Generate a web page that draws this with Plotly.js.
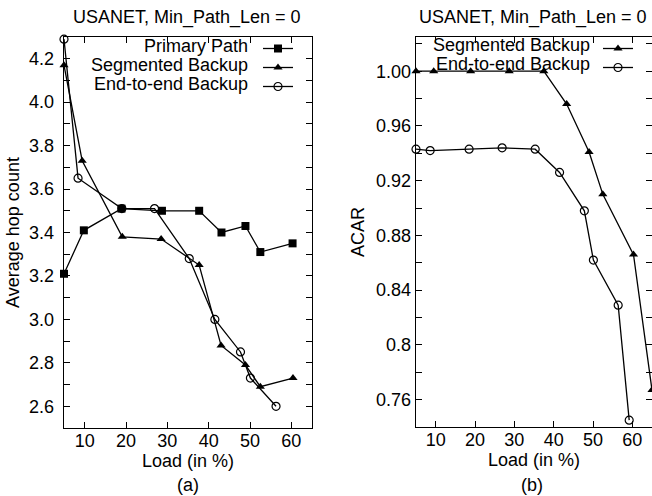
<!DOCTYPE html>
<html>
<head>
<meta charset="utf-8">
<script src="https://cdn.plot.ly/plotly-3.0.1.min.js"></script>
<style>html,body{margin:0;padding:0;background:#fff;}#chart{width:652px;height:496px;}</style>
</head>
<body>
<div id="chart"></div>
<script>
// ---- data (a): Average hop count vs Load ----
const loadPrimaryA = [5, 9.8, 18.9, 28.7, 37.7, 43.1, 48.9, 52.5, 60.3];
const hopPrimary   = [3.21, 3.41, 3.51, 3.50, 3.50, 3.40, 3.43, 3.31, 3.35];
const loadSegA     = [5, 9.4, 19.1, 28.5, 37.7, 43.0, 48.9, 52.5, 60.4];
const hopSeg       = [4.17, 3.73, 3.38, 3.37, 3.25, 2.88, 2.79, 2.69, 2.73];
const loadE2EA     = [5, 8.4, 19.0, 26.9, 35.3, 41.5, 47.7, 50.1, 56.3];
const hopE2E       = [4.29, 3.65, 3.51, 3.51, 3.28, 3.00, 2.85, 2.73, 2.60];

// ---- data (b): ACAR vs Load ----
const loadSegB = [5, 9.5, 18.9, 28.7, 37.5, 43.3, 49.0, 52.5, 60.3, 65.0];
const acarSeg  = [1.000, 1.000, 1.000, 1.000, 1.000, 0.976, 0.941, 0.910, 0.866, 0.767];
const loadE2EB = [5, 8.6, 18.5, 26.9, 35.3, 41.5, 47.8, 50.1, 56.4, 59.2];
const acarE2E  = [0.943, 0.942, 0.943, 0.944, 0.943, 0.926, 0.898, 0.862, 0.829, 0.745];

// ---- tick labels ----
const xTicks = [10, 20, 30, 40, 50, 60];
const hopTicks = [2.6, 2.8, 3.0, 3.2, 3.4, 3.6, 3.8, 4.0, 4.2];
const hopTickText = ["2.6", "2.8", "3.0", "3.2", "3.4", "3.6", "3.8", "4.0", "4.2"];
const acarTicks = [0.76, 0.80, 0.84, 0.88, 0.92, 0.96, 1.00];
const acarTickText = ["0.76", "0.8", "0.84", "0.88", "0.92", "0.96", "1.00"];

const seriesNames = ["Primary Path", "Segmented Backup", "End-to-end Backup"];
const titleText = "USANET, Min_Path_Len = 0";

const FONT = "Liberation Sans, Arial, Helvetica, sans-serif";
const FS = 18;
const W = 652, H = 496;
const px = v => v / W;
const py = v => 1 - v / H;

const lineStyle = {color: "#000", width: 1.3};
const sq = {symbol: "square", size: 8, color: "#000"};
const tri = {symbol: "triangle-up", size: 8, color: "#000"};
const circ = {symbol: "circle-open", size: 8, color: "#000", line: {width: 1.2, color: "#000"}};

const traces = [
  {x: loadPrimaryA, y: hopPrimary, mode: "lines+markers", line: lineStyle, marker: sq, name: "", legend: "legend", xaxis: "x", yaxis: "y", cliponaxis: false},
  {x: loadSegA, y: hopSeg, mode: "lines+markers", line: lineStyle, marker: tri, name: "", legend: "legend", xaxis: "x", yaxis: "y", cliponaxis: false},
  {x: loadE2EA, y: hopE2E, mode: "lines+markers", line: lineStyle, marker: circ, name: "", legend: "legend", xaxis: "x", yaxis: "y", cliponaxis: false},
  {x: loadSegB, y: acarSeg, mode: "lines+markers", line: lineStyle, marker: tri, name: "", legend: "legend2", xaxis: "x2", yaxis: "y2", cliponaxis: false},
  {x: loadE2EB, y: acarE2E, mode: "lines+markers", line: lineStyle, marker: circ, name: "", legend: "legend2", xaxis: "x2", yaxis: "y2", cliponaxis: false}
];

const axCommon = {
  showline: true, linecolor: "#000", linewidth: 1.3, mirror: "ticks",
  ticks: "inside", ticklen: 6, tickwidth: 1, tickcolor: "#000",
  showgrid: false, zeroline: false,
  tickfont: {family: FONT, size: FS, color: "#000"}
};

const ann = (text, x, y, xanchor) => ({
  text: text, xref: "paper", yref: "paper", x: px(x), y: py(y),
  xanchor: xanchor || "center", yanchor: "middle", showarrow: false, borderpad: 0,
  font: {family: FONT, size: FS, color: "#000"}
});

const layout = {
  width: W, height: H,
  margin: {l: 0, r: 0, t: 0, b: 0},
  paper_bgcolor: "#fff", plot_bgcolor: "#fff",
  font: {family: FONT, size: FS, color: "#000"},
  showlegend: true,
  xaxis: Object.assign({}, axCommon, {
    domain: [px(64), px(312)], range: [5, 65], tickvals: xTicks, anchor: "y",
    ticklabelstandoff: -4,
    title: {text: "Load (in %)", font: {family: FONT, size: FS}, standoff: 2}
  }),
  yaxis: Object.assign({}, axCommon, {
    domain: [py(428), py(37)], range: [2.5, 4.3], tickvals: hopTicks, ticktext: hopTickText, anchor: "x",
    minor: {dtick: 0.1, tick0: 2.5, ticks: "inside", ticklen: 6, tickcolor: "#000"},
    ticklabelstandoff: 5,
    title: {text: "Average hop count", font: {family: FONT, size: FS}, standoff: 4}
  }),
  xaxis2: Object.assign({}, axCommon, {
    domain: [px(416), 1], range: [5, 65], tickvals: xTicks, anchor: "y2",
    ticklabelstandoff: -4,
    title: {text: "Load (in %)", font: {family: FONT, size: FS}, standoff: 2}
  }),
  yaxis2: Object.assign({}, axCommon, {
    domain: [py(427), py(37)], range: [0.74, 1.025], tickvals: acarTicks, ticktext: acarTickText, anchor: "x2",
    minor: {dtick: 0.02, tick0: 0.74, ticks: "inside", ticklen: 6, tickcolor: "#000"},
    ticklabelstandoff: 0,
    title: {text: "ACAR", font: {family: FONT, size: FS}, standoff: 6}
  }),
  legend: {
    x: px(303), xanchor: "right", y: py(34), yanchor: "top",
    bgcolor: "rgba(0,0,0,0)", borderwidth: 0,
    font: {family: FONT, size: 12}, tracegroupgap: 0, itemclick: false
  },
  legend2: {
    x: px(643), xanchor: "right", y: py(34), yanchor: "top",
    bgcolor: "rgba(0,0,0,0)", borderwidth: 0,
    font: {family: FONT, size: 12}, tracegroupgap: 0, itemclick: false
  },
  annotations: [
    ann(titleText, 187, 18),
    ann(titleText, 533, 18),
    ann("(a)", 188, 485),
    ann("(b)", 532, 485),
    // legend labels: text sits to the left of the sample lines, as in the original
    ann(seriesNames[0], 249, 46, "right"),
    ann(seriesNames[1], 249, 65, "right"),
    ann(seriesNames[2], 249, 84, "right"),
    ann(seriesNames[1], 591, 45, "right"),
    ann(seriesNames[2], 591, 64, "right")
  ]
};

Plotly.newPlot("chart", traces, layout, {staticPlot: true, displayModeBar: false});
</script>
</body>
</html>
